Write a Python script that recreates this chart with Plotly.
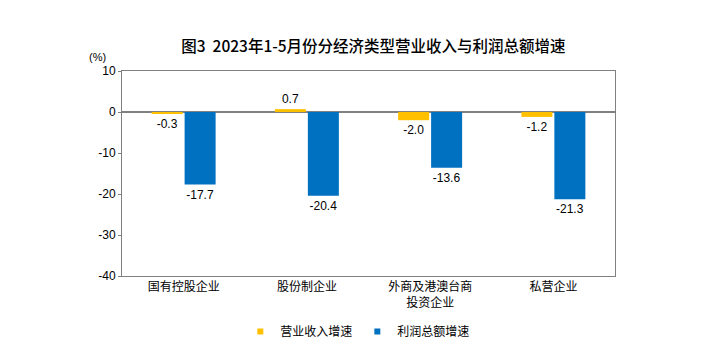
import plotly.graph_objects as go

categories = ["国有控股企业", "股份制企业", "外商及港澳台商<br>投资企业", "私营企业"]
revenue_growth = [-0.3, 0.7, -2.0, -1.2]
profit_growth = [-17.7, -20.4, -13.6, -21.3]
series_names = ["营业收入增速", "利润总额增速"]
colors = ["#FFC000", "#0070C0"]
y_ticks = [10, 0, -10, -20, -30, -40]

FONT = "Liberation Sans, Arial, Noto Sans CJK SC, sans-serif"
CJK = "Noto Sans CJK SC, sans-serif"

fig = go.Figure()
for name, vals, c in zip(series_names, [revenue_growth, profit_growth], colors):
    fig.add_trace(go.Bar(
        x=categories, y=vals, name=name, marker_color=c, marker_line_width=0,
        text=[f"{v:.1f}" for v in vals], textposition="outside",
        textfont=dict(size=12, color="#000000", family=FONT),
        cliponaxis=False, showlegend=False,
    ))
    fig.add_trace(go.Scatter(
        x=[None], y=[None], mode="markers", name=name,
        marker=dict(symbol="square", size=6, color=c), showlegend=True,
    ))

fig.update_layout(
    width=715, height=348,
    margin=dict(l=122, r=100, t=71, b=72, autoexpand=False),
    paper_bgcolor="white", plot_bgcolor="white",
    barmode="group", bargap=0.465, bargroupgap=0.06,
    font=dict(family=FONT, size=12, color="#000000"),
    title=dict(text="图3  2023年1-5月份分经济类型营业收入与利润总额增速",
               xref="paper", x=0.51, xanchor="center", y=0.865, yanchor="middle",
               font=dict(size=15.5, color="#000000", family=CJK, weight=500)),
    showlegend=True,
    legend=dict(orientation="h", x=0.24, xanchor="left", y=-0.2, yanchor="top",
                font=dict(size=12, family=CJK),
                itemwidth=30, bgcolor="rgba(0,0,0,0)"),
    annotations=[dict(text="(%)", xref="paper", yref="paper", x=-0.05, y=1.03,
                      xanchor="center", yanchor="bottom", showarrow=False,
                      font=dict(size=11, family=FONT))],
)
fig.update_xaxes(showline=True, mirror=True, linecolor="#808080", linewidth=1,
                 ticks="", tickfont=dict(size=12, family=CJK),
                 showgrid=False, automargin=False)
fig.update_yaxes(range=[-40, 10], tickvals=y_ticks, ticktext=[str(v) for v in y_ticks],
                 showline=True, mirror=True,
                 linecolor="#808080", linewidth=1, ticks="outside", ticklen=3,
                 tickcolor="#808080", showgrid=False, zeroline=True,
                 zerolinecolor="#808080", zerolinewidth=2, automargin=False,
                 tickfont=dict(size=12, family=FONT))

fig.write_html("out.html")
